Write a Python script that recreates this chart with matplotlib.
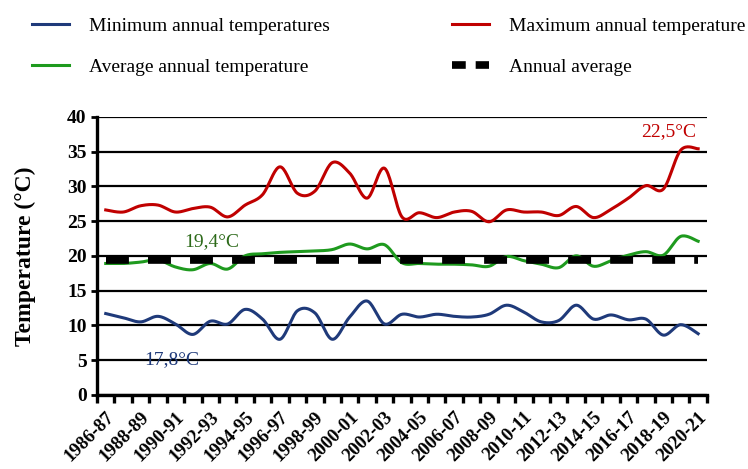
import matplotlib
matplotlib.use("Agg")
import matplotlib.pyplot as plt
from matplotlib.lines import Line2D
import numpy as np

plt.rcParams['font.family'] = ['Liberation Serif', 'DejaVu Serif']

# seasons 1986-87 .. 2020-21
seasons = ["%d-%02d" % (y, (y + 1) % 100) for y in range(1986, 2021)]

t_min = [11.7, 11.1, 10.5, 11.3, 10.2, 8.7, 10.6, 10.2, 12.3, 10.9,
         8.0, 12.1, 11.8, 8.0, 11.2, 13.5, 10.2, 11.6, 11.2, 11.6,
         11.3, 11.2, 11.6, 12.9, 11.9, 10.5, 10.7, 12.9, 10.9, 11.5,
         10.8, 10.9, 8.6, 10.1, 8.8]
t_max = [26.6, 26.3, 27.2, 27.3, 26.3, 26.8, 27.0, 25.6, 27.3, 28.8,
         32.8, 29.0, 29.3, 33.4, 31.9, 28.3, 32.6, 25.6, 26.2, 25.5,
         26.3, 26.4, 24.9, 26.6, 26.3, 26.3, 25.8, 27.1, 25.5, 26.7,
         28.3, 30.1, 29.6, 35.2, 35.4]
t_avg = [18.9, 18.9, 19.1, 19.4, 18.4, 18.0, 18.9, 18.1, 20.0, 20.3,
         20.5, 20.6, 20.7, 20.9, 21.7, 21.0, 21.6, 19.0, 18.9, 18.8,
         18.8, 18.7, 18.5, 19.9, 19.3, 18.8, 18.3, 20.0, 18.5, 19.3,
         20.1, 20.6, 20.1, 22.8, 22.1]
annual_avg = 19.4

c_min = '#1f3a7a'
c_max = '#c00000'
c_avg = '#1e9a1e'


def smooth(x, y, n=20):
    # bezier smoothing through every point (like a spreadsheet "smoothed line")
    x = np.asarray(x, float)
    y = np.asarray(y, float)
    px = np.concatenate([[x[0]], x, [x[-1]]])
    py = np.concatenate([[y[0]], y, [y[-1]]])
    xs, ys = [], []
    t = np.linspace(0, 1, n, endpoint=False)
    for i in range(len(x) - 1):
        p0 = np.array([px[i + 1], py[i + 1]])
        p3 = np.array([px[i + 2], py[i + 2]])
        c1 = p0 + (p3 - np.array([px[i], py[i]])) / 6
        c2 = p3 - (np.array([px[i + 3], py[i + 3]]) - p0) / 6
        b = ((1 - t) ** 3)[:, None] * p0 + (3 * (1 - t) ** 2 * t)[:, None] * c1 \
            + (3 * (1 - t) * t ** 2)[:, None] * c2 + (t ** 3)[:, None] * p3
        xs.append(b[:, 0])
        ys.append(b[:, 1])
    xs.append([x[-1]])
    ys.append([y[-1]])
    return np.concatenate(xs), np.concatenate(ys)


fig = plt.figure(figsize=(7.48, 4.69), dpi=100)
ax = fig.add_axes([0.1297, 0.158, 0.8153, 0.593])

idx = np.arange(len(seasons))
ax.plot(*smooth(idx, t_min), color=c_min, lw=2.2, zorder=3)
ax.plot(*smooth(idx, t_max), color=c_max, lw=2.2, zorder=3)
ax.plot(*smooth(idx, t_avg), color=c_avg, lw=2.2, zorder=3)
ax.plot(idx, [annual_avg] * len(idx), color='black', lw=5.5,
        ls=(0, (3.0, 2.5)), zorder=4)

ax.set_xlim(-0.5, len(seasons) - 0.5)
ax.set_ylim(0, 40)
ax.set_yticks(range(0, 41, 5))
ax.yaxis.grid(True, color='black', lw=1.6)
ax.set_axisbelow(True)
for s in ['top', 'right']:
    ax.spines[s].set_visible(False)
for s in ['left', 'bottom']:
    ax.spines[s].set_linewidth(2.4)

ax.set_xticks(np.arange(-0.5, len(seasons)), minor=True)
ax.set_xticks(idx[::2])
ax.set_xticklabels(seasons[::2], rotation=45, ha='right', rotation_mode='anchor',
                   fontsize=13.5, fontweight='bold')
ax.tick_params(axis='x', which='major', length=0, pad=10)
ax.tick_params(axis='x', which='minor', length=6, width=2.4, direction='out')
ax.tick_params(axis='y', length=4, width=2, labelsize=14)
for lab in ax.get_yticklabels():
    lab.set_fontweight('bold')

ax.set_ylabel('Temperature (°C)', fontsize=17, fontweight='bold', labelpad=22)

ax.text(6.1, 22.0, '19,4°C', color='#2d6a1a', fontsize=14, ha='center', va='center')
ax.text(3.8, 5.1, '17,8°C', color=c_min, fontsize=14, ha='center', va='center')
ax.text(32.3, 37.9, '22,5°C', color=c_max, fontsize=14, ha='center', va='center')

handles = [
    Line2D([], [], color=c_min, lw=2.2),
    Line2D([], [], color=c_avg, lw=2.2),
    Line2D([], [], color=c_max, lw=2.2),
    Line2D([], [], color='black', lw=5.5, ls=(0, (1.8, 1.3))),
]
labels = ['Minimum annual temperatures', 'Average annual temperature',
          'Maximum annual temperature', 'Annual average']
fig.legend(handles, labels, ncol=2, loc='upper left', bbox_to_anchor=(0.02, 1.0),
           frameon=False, fontsize=14, handlelength=1.9, handletextpad=1.0,
           labelspacing=1.2, columnspacing=6.3)

fig.savefig('out.png', dpi=100)
